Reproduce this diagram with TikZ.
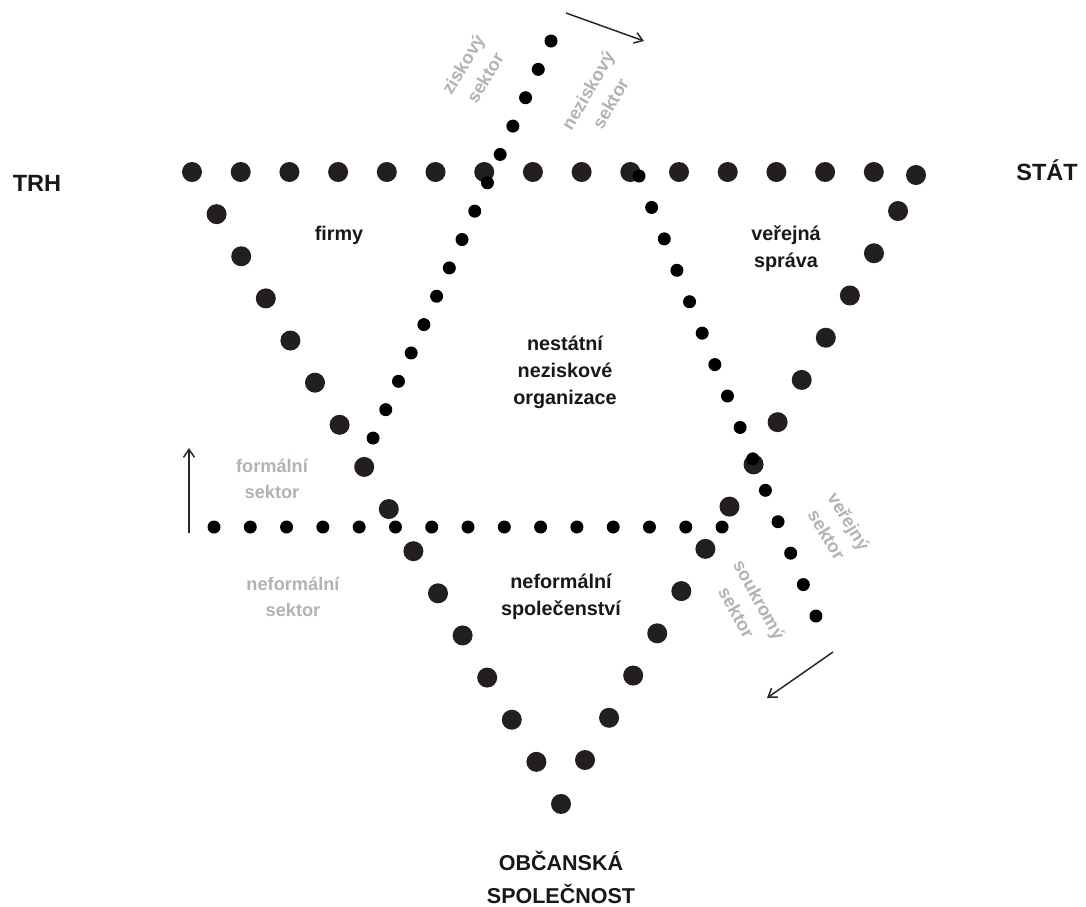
\documentclass[tikz,border=0pt]{standalone}
\usepackage{fontspec}
\setmainfont{Liberation Sans}
\usetikzlibrary{arrows.meta}
\definecolor{bigdot}{RGB}{35,31,32}
\definecolor{lab}{RGB}{182,178,174}
\definecolor{txt}{RGB}{24,24,24}
\definecolor{arr}{RGB}{40,40,40}
\begin{document}
\begin{tikzpicture}[x=1pt,y=-1pt,
  bdot/.style={fill=bigdot,draw=none},
  sdot/.style={fill=black,draw=none},
  dark/.style={text=txt,font=\bfseries\fontsize{19.8}{27}\selectfont,align=center,inner sep=0pt},
  graylab/.style={text=lab,font=\bfseries\fontsize{18.2}{26}\selectfont,align=center,inner sep=0pt},
  pole/.style={text=txt,font=\bfseries\fontsize{21.5}{34}\selectfont,align=center,inner sep=0pt},
  sidepole/.style={text=txt,font=\bfseries\fontsize{23.5}{30}\selectfont,inner sep=0pt},
  arrline/.style={draw=arr,line width=1.5pt,-{Straight Barb[length=8pt,width=11pt,line width=1.5pt]}}]
\useasboundingbox (0,0) rectangle (1086,906);
\fill[white] (0,0) rectangle (1086,906);
% big triangle: top edge
\foreach \k in {0,...,14}{\fill[bdot] (192+48.7*\k,172) circle (10);}
\fill[bdot] (916,175) circle (10);
% left edge
\foreach \k in {1,...,15}{\fill[bdot] (192+24.6*\k,172+42.13*\k) circle (10);}
% right edge
\foreach \k in {0,...,13}{\fill[bdot] (585+24.08*\k,760-42.23*\k) circle (10);}
% small dotted lines
\foreach \k in {0,...,14}{\fill[sdot] (551-12.71*\k,41+28.36*\k) circle (6.5);}
\foreach \k in {0,...,14}{\fill[sdot] (639+12.64*\k,176+31.43*\k) circle (6.5);}
\foreach \k in {0,...,14}{\fill[sdot] (214+36.29*\k,527) circle (6.5);}
% labels
\node[sidepole,anchor=base] (trh) at (37,191) {TRH};
\node[sidepole,anchor=base] (stat) at (1047,180) {STÁT};
\node[pole,anchor=base] (obc1) at (561,870) {OBČANSKÁ};
\node[pole,anchor=base] (obc2) at (561,903) {SPOLEČNOST};
\node[dark] (firmy) at (339,235) {firmy};
\node[dark] (vs) at (786,249) {veřejná\\správa};
\node[dark] (nno) at (565,372) {nestátní\\neziskové\\organizace};
\node[dark] (nsp) at (561,597) {neformální\\společenství};
\node[graylab] (fs) at (272,479) {formální\\sektor};
\node[graylab] (nfs) at (293,597) {neformální\\sektor};
\node[graylab,rotate=59] (zs) at (474,71) {ziskový\\sektor};
\node[graylab,rotate=60] (nzs) at (599,97) {neziskový\\sektor};
\node[graylab,rotate=-59] (vejs) at (838,528) {veřejný\\sektor};
\node[graylab,rotate=-61] (sks) at (748,606) {soukromý\\sektor};
% arrows
\coordinate (a1s) at (566,13); \coordinate (a1e) at (644,41);
\coordinate (a2s) at (833,652); \coordinate (a2e) at (767,698);
\coordinate (a3s) at (189,533); \coordinate (a3e) at (189,448);
\draw[arrline] (a1s) -- (a1e);
\draw[arrline] (a2s) -- (a2e);
\draw[arrline] (a3s) -- (a3e);
\end{tikzpicture}
\end{document}
